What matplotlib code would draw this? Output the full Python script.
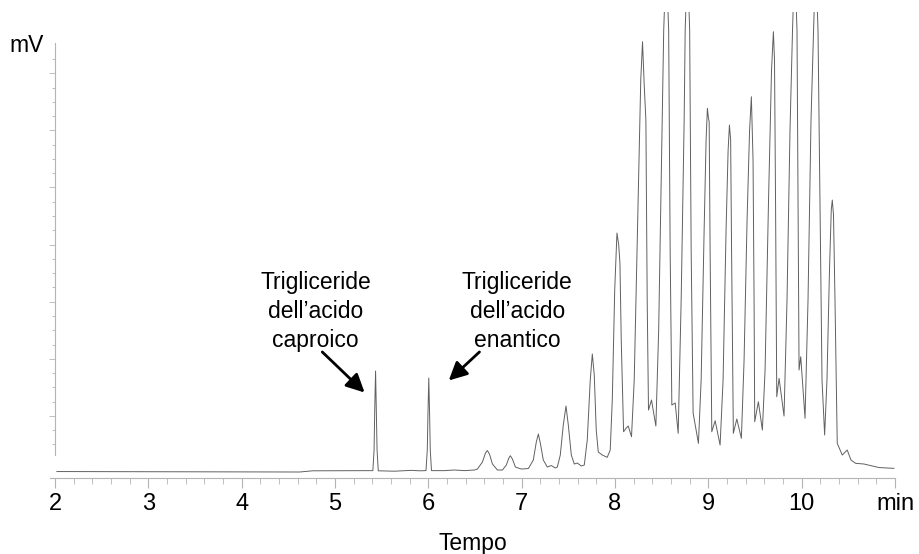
import numpy as np
import matplotlib
matplotlib.use("Agg")
import matplotlib.pyplot as plt
from matplotlib.ticker import MultipleLocator, FixedLocator

plt.rcParams['font.family'] = ['Liberation Sans', 'DejaVu Sans']

# chromatogram trace (time in min, signal in mV)
time_min = [
    2.021, 3.551, 4.622, 4.761, 5.381,
    5.406, 5.419, 5.426, 5.435, 5.443, 5.451, 5.464,
    5.638, 5.820, 5.906,
    5.975, 5.989, 5.996, 6.005, 6.014, 6.021, 6.034,
    6.173, 6.280, 6.387, 6.494,
    6.526, 6.580, 6.612, 6.633, 6.655, 6.687, 6.740, 6.794,
    6.836, 6.863, 6.879, 6.901, 6.933, 6.997,
    7.072, 7.125, 7.157, 7.179, 7.200, 7.232, 7.275, 7.318, 7.361,
    7.382, 7.414, 7.446, 7.475, 7.500, 7.532, 7.564, 7.596, 7.639,
    7.671, 7.703, 7.735, 7.757, 7.778, 7.799, 7.821, 7.864, 7.917, 7.949,
    7.971, 7.997, 8.021, 8.040, 8.053, 8.067, 8.092, 8.120, 8.142, 8.177,
    8.206, 8.243, 8.276, 8.295, 8.313, 8.331, 8.345, 8.359, 8.391, 8.438,
    8.468, 8.500, 8.522, 8.548, 8.575, 8.591, 8.609, 8.645, 8.677,
    8.709, 8.741, 8.752, 8.776, 8.800, 8.816, 8.837, 8.894,
    8.923, 8.955, 8.976, 8.990, 9.001, 9.009, 9.019, 9.037, 9.073, 9.126,
    9.158, 9.190, 9.212, 9.226, 9.239, 9.249, 9.268, 9.305, 9.354,
    9.383, 9.415, 9.442, 9.461, 9.479, 9.490, 9.497, 9.536, 9.579,
    9.608, 9.645, 9.677, 9.697, 9.709, 9.720, 9.733, 9.758, 9.811,
    9.843, 9.875, 9.902, 9.925, 9.950, 9.961, 9.972, 9.990, 10.036,
    10.068, 10.100, 10.127, 10.150, 10.175, 10.196, 10.218, 10.246,
    10.271, 10.298, 10.317, 10.328, 10.341, 10.357, 10.381, 10.435,
    10.488, 10.528, 10.578, 10.667, 10.756, 10.828, 10.988,
]
signal_mv = [
    0.26, 0.21, 0.18, 0.39, 0.42,
    0.42, 4.03, 11.03, 17.86, 11.03, 4.03, 0.39,
    0.32, 0.47, 0.39,
    0.42, 4.03, 10.16, 16.63, 10.16, 4.03, 0.42,
    0.42, 0.53, 0.42, 0.53,
    0.70, 1.93, 3.50, 3.94, 3.33, 1.58, 0.53, 0.53,
    1.40, 2.63, 3.03, 2.45, 1.05, 0.70,
    0.79, 2.28, 5.43, 6.83, 5.25, 2.28, 1.05, 1.31, 0.88,
    1.05, 3.15, 8.40, 11.73, 8.40, 3.15, 1.58, 1.75, 1.23,
    1.40, 5.78, 16.28, 20.84, 17.16, 7.53, 3.68, 3.15, 2.75, 4.03,
    12.78, 32.04, 42.02, 39.92, 36.77, 23.29, 7.23, 7.88, 8.23, 6.36,
    16.28, 44.30, 68.81, 75.52, 67.94, 61.81, 30.29, 11.03, 12.78, 8.23,
    25.04, 56.56, 77.57, 89.83, 77.57, 39.05, 11.91, 12.26, 6.95,
    30.29, 61.81, 77.57, 89.83, 77.57, 39.05, 10.51, 5.20,
    16.28, 42.55, 58.31, 63.86, 62.16, 61.51, 39.05, 7.23, 9.16, 4.90,
    16.28, 42.55, 56.56, 60.93, 58.31, 39.05, 6.95, 9.46, 6.08,
    19.79, 44.30, 60.06, 65.89, 54.81, 30.29, 8.98, 12.48, 7.53,
    18.04, 47.80, 70.57, 77.27, 72.32, 47.80, 13.36, 16.58, 9.98,
    30.29, 60.06, 77.57, 89.83, 77.57, 47.80, 18.04, 20.36, 9.58,
    30.29, 61.81, 77.57, 89.83, 77.57, 47.80, 16.28, 6.65,
    16.28, 35.55, 46.05, 47.80, 45.18, 30.29, 5.20, 3.15,
    4.03, 2.28, 1.70, 1.58, 1.23, 0.96, 0.82,
]

x_ticks = [2, 3, 4, 5, 6, 7, 8, 9, 10, 11]
x_tick_labels = ['2', '3', '4', '5', '6', '7', '8', '9', '10', 'min']

labels = ['Trigliceride\ndell\u2019acido\ncaproico',
          'Trigliceride\ndell\u2019acido\nenantico']
label_xy = [(4.793, 28.3), (6.954, 28.3)]
arrow_tail = [(4.864, 21.2), (6.548, 21.2)]
arrow_tip = [(5.317, 14.1), (6.219, 16.2)]

fig = plt.figure(figsize=(9.19, 5.54), dpi=100)
ax = fig.add_axes([0.0544, 0.1377, 0.9195, 0.8406])

ax.plot(time_min, signal_mv, color='#606060', lw=0.7)
ax.set_xlim(1.947, 11.0)
ax.set_ylim(-0.82, 80.72)

axis_grey = '#b4b4b4'
for side in ['top', 'right']:
    ax.spines[side].set_visible(False)
ax.spines['left'].set_position(('data', 2))
ax.spines['left'].set_bounds(3.15, 75.3)
ax.spines['left'].set_color(axis_grey)
ax.spines['bottom'].set_color(axis_grey)

ax.set_xticks(x_ticks)
ax.set_xticklabels(x_tick_labels)
ax.xaxis.set_minor_locator(MultipleLocator(0.2))
ax.tick_params(axis='x', which='major', length=7, width=0.8, color=axis_grey,
               labelsize=17, pad=4, labelcolor='black')
ax.tick_params(axis='x', which='minor', length=4, width=0.6, color=axis_grey)

ax.set_yticks(np.arange(10, 71, 10))
ax.yaxis.set_minor_locator(FixedLocator(np.arange(5, 73, 2.5)))
ax.tick_params(axis='y', which='major', length=4, width=0.6, color=axis_grey,
               labelleft=False)
ax.tick_params(axis='y', which='minor', length=2, width=0.6, color=axis_grey)

ax.set_xlabel('Tempo', fontsize=16.5, labelpad=12)
fig.text(0.029, 0.918, 'mV', fontsize=16.5, ha='center', va='center')

for text, xy, tail, tip in zip(labels, label_xy, arrow_tail, arrow_tip):
    ax.text(xy[0], xy[1], text, fontsize=16.5, ha='center', va='center',
            linespacing=1.33)
    ax.annotate('', xy=tip, xytext=tail,
                arrowprops=dict(arrowstyle='-|>,head_length=1.1,head_width=0.55',
                                color='black', lw=2.0, shrinkA=0, shrinkB=0))

fig.savefig('out.png', dpi=100)
